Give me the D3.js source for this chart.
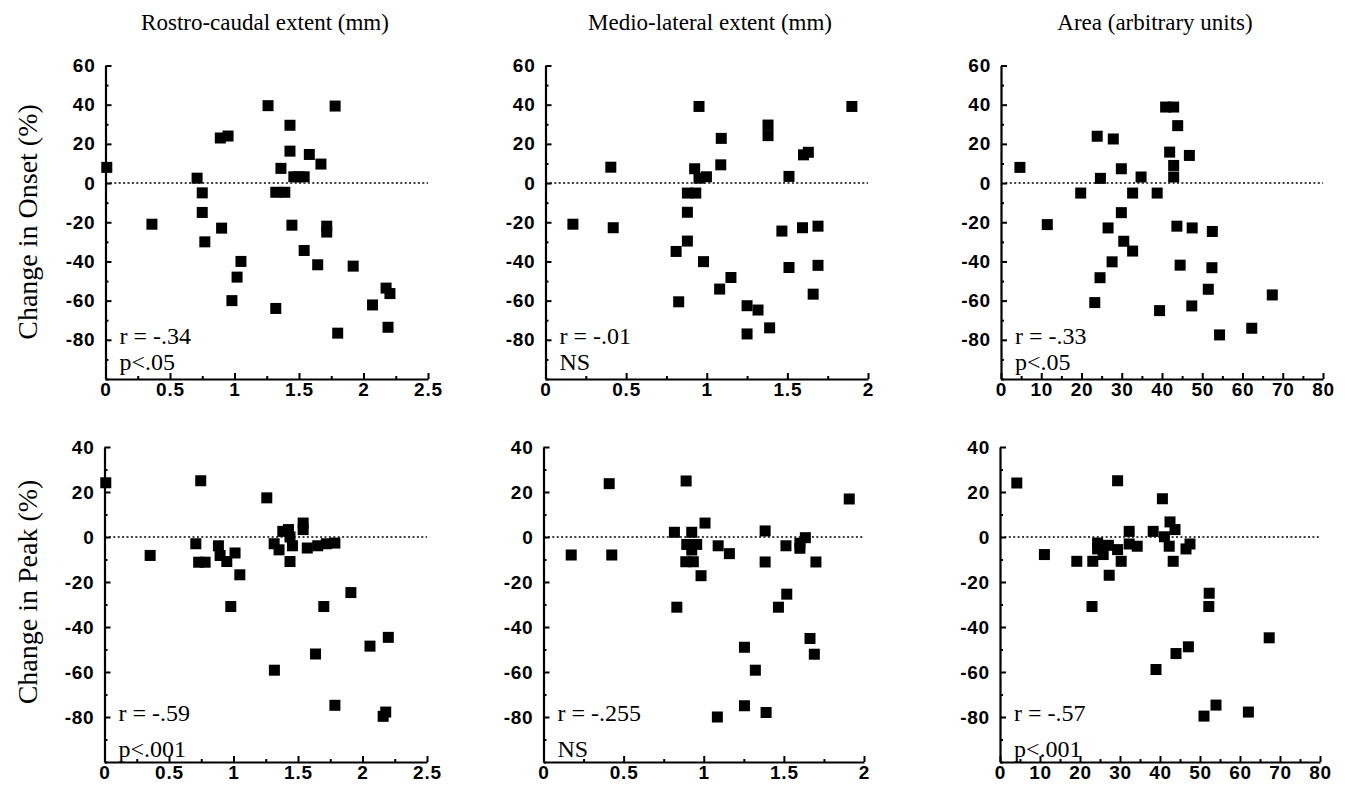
<!DOCTYPE html>
<html><head><meta charset="utf-8">
<script src="https://cdn.jsdelivr.net/npm/d3@7"></script>
<style>
html,body{margin:0;padding:0;background:#fff;}
svg{display:block;}
.tick text{font-family:"Liberation Sans",Arial,sans-serif;font-size:19px;font-weight:bold;letter-spacing:0.8px;fill:#000;}
</style></head>
<body>
<svg id="chart" width="1345" height="791"></svg>
<script>
// ---------- DATA ----------
const columnTitles = ["Rostro-caudal extent (mm)", "Medio-lateral extent (mm)", "Area (arbitrary units)"];
const rowTitles = ["Change in Onset (%)", "Change in Peak (%)"];

const xTicksRC = [0, 0.5, 1, 1.5, 2, 2.5];
const xTicksML = [0, 0.5, 1, 1.5, 2];
const xTicksArea = [0, 10, 20, 30, 40, 50, 60, 70, 80];
const yTicksOnset = [60, 40, 20, 0, -20, -40, -60, -80];
const yTicksPeak = [40, 20, 0, -20, -40, -60, -80];

const statsOnset = [["r = -.34", "p<.05"], ["r = -.01", "NS"], ["r = -.33", "p<.05"]];
const statsPeak = [["r = -.59", "p<.001"], ["r = -.255", "NS"], ["r = -.57", "p<.001"]];

// [x, y] pairs
const onsetRC = [[0.01,8],[0.36,-21],[0.71,2.5],[0.75,-5],[0.75,-15],[0.77,-30],[0.89,23],[0.95,24],
 [0.90,-23],[1.05,-40],[1.02,-48],[0.98,-60],[1.26,39.5],[1.32,-64],[1.32,-4.7],[1.36,7.5],[1.39,-4.7],
 [1.43,29.5],[1.43,16.3],[1.46,3.2],[1.50,3.2],[1.54,3.2],[1.445,-21.5],[1.54,-34.4],[1.58,14.6],
 [1.645,-41.7],[1.67,9.7],[1.715,-22],[1.715,-25],[1.78,39.3],[1.80,-76.6],[1.92,-42.4],[2.07,-62.2],
 [2.175,-53.6],[2.205,-56.4],[2.19,-73.6]];
const onsetML = [[0.17,-21],[0.405,8.1],[0.42,-22.8],[0.81,-34.9],[0.826,-60.6],[0.88,-14.9],[0.88,-29.6],
 [0.88,-5.1],[0.932,-5.1],[0.925,7.3],[0.952,39.1],[0.952,2.5],[0.998,3.2],[0.98,-40.1],[1.09,22.8],
 [1.087,9.3],[1.08,-54.1],[1.15,-48.2],[1.25,-62.6],[1.25,-77],[1.318,-64.8],[1.38,29.6],[1.38,24.2],
 [1.39,-73.9],[1.466,-24.5],[1.51,3.4],[1.51,-43.1],[1.594,-22.8],[1.60,14.4],[1.63,15.7],[1.66,-56.7],
 [1.69,-22],[1.69,-42],[1.90,39.1]];
const onsetArea = [[4.7,8],[11.5,-21.2],[19.8,-5.1],[23.9,23.9],[24.7,2.4],[23.3,-61],[24.6,-48.3],
 [26.6,-22.9],[27.9,22.5],[27.6,-40.2],[29.9,7.3],[29.9,-15.1],[30.5,-29.7],[32.7,-34.7],[32.7,-5.1],
 [34.8,3.1],[38.8,-5.1],[39.4,-65.1],[40.9,38.8],[42.9,38.8],[41.9,15.8],[43.9,29.3],[42.9,9],[42.9,3.1],
 [43.7,-22],[44.5,-41.9],[46.8,14.1],[47.5,-22.9],[47.4,-62.7],[51.5,-54.2],[52.5,-24.7],[52.4,-43.2],
 [54.3,-77.5],[62.3,-74.1],[67.4,-57.1]];
const peakRC = [[0.01,24.1],[0.354,-8.2],[0.708,-3],[0.746,25],[0.73,-11.2],[0.78,-11.2],[0.883,-3.9],
 [0.896,-8.2],[0.948,-10.9],[1.012,-7.1],[0.979,-30.9],[1.049,-16.8],[1.258,17.4],[1.315,-3],[1.317,-59.2],
 [1.353,-5.7],[1.382,2.5],[1.426,3.3],[1.438,0],[1.457,-3.9],[1.438,-10.9],[1.54,6.2],[1.54,3.3],
 [1.572,-4.9],[1.653,-3.9],[1.72,-3],[1.786,-2.7],[1.70,-30.9],[1.636,-52],[1.786,-74.8],[1.91,-24.7],
 [2.058,-48.5],[2.2,-44.6],[2.16,-79.7],[2.18,-77.8]];
const peakML = [[0.173,-8],[0.41,23.7],[0.426,-8],[0.817,2.1],[0.832,-31.2],[0.89,24.9],[0.894,-3.3],
 [0.925,2.1],[0.925,-5.8],[0.956,-3.3],[0.888,-11],[0.935,-11],[1.008,6.2],[0.983,-17.2],[1.09,-3.9],
 [1.085,-80],[1.16,-7.4],[1.254,-49],[1.254,-75],[1.322,-59.2],[1.383,2.7],[1.383,-11.1],[1.389,-78],
 [1.466,-31.2],[1.513,-3.9],[1.518,-25.4],[1.6,-5],[1.6,-2.8],[1.634,-0.3],[1.663,-45.1],[1.69,-52.1],
 [1.70,-11.1],[1.908,16.9]];
const peakArea = [[4.2,24],[11.1,-7.8],[19.2,-10.8],[23.2,-10.8],[23,-30.9],[24.4,-2.7],[24.4,-5.3],
 [25.8,-7.8],[27.1,-3.7],[27.3,-17],[29.4,25],[29.4,-5.6],[30.3,-10.8],[32.3,2.5],[32.3,-3.1],[34.3,-4.1],
 [38.3,2.5],[39,-58.9],[40.6,17],[41.1,0.1],[42.5,6.7],[43.75,3.3],[42.3,-4.1],[43.3,-10.8],[44,-51.8],
 [46.5,-5.3],[47.5,-3.1],[47.1,-48.8],[52.3,-25],[52.2,-30.9],[51,-79.6],[54,-74.7],[62.1,-77.8],[67.3,-44.8]];

// ---------- LAYOUT ----------
const svg = d3.select("#chart");
const rows = [
  {yDomain:[-100,60], yRange:[379,65.5], yTicks:yTicksOnset, stats:statsOnset, data:[onsetRC,onsetML,onsetArea],
   xRanges:[[105.5,428],[545.5,868],[1001,1323]]},
  {yDomain:[-100,40], yRange:[762,447], yTicks:yTicksPeak, stats:statsPeak, data:[peakRC,peakML,peakArea],
   xRanges:[[104.5,427],[543.5,864],[1000,1320]]}
];
const cols = [
  {domain:[0,2.5], ticks:xTicksRC, minorStep:0.25, fmt:d=>String(d)},
  {domain:[0,2], ticks:xTicksML, minorStep:0.25, fmt:d=>String(d)},
  {domain:[0,80], ticks:xTicksArea, minorStep:5, fmt:d=>String(d)}
];

function range(a,b,s){const out=[];for(let v=a;v<=b+1e-9;v+=s)out.push(+v.toFixed(4));return out;}

rows.forEach((row,ri)=>{
  const y = d3.scaleLinear().domain(row.yDomain).range(row.yRange);
  cols.forEach((col,ci)=>{
    const x = d3.scaleLinear().domain(col.domain).range(row.xRanges[ci]);
    const g = svg.append("g");
    const x0 = x.range()[0], y0 = y.range()[0];

    // zero line
    g.append("line").attr("x1",x0).attr("x2",x.range()[1]).attr("y1",y(0)).attr("y2",y(0))
      .attr("stroke","#000").attr("stroke-width",1.5).attr("stroke-dasharray","2,2.4");

    // minor y ticks
    const yMinor = range(row.yDomain[0],row.yDomain[1],10).filter(v=>!row.yTicks.includes(v));
    g.append("g").attr("transform",`translate(${x0},0)`)
      .call(d3.axisLeft(y).tickValues(yMinor).tickSize(-3).tickFormat(""))
      .call(s=>s.select(".domain").remove())
      .selectAll("line").attr("stroke-width",2);
    // major y ticks
    g.append("g").attr("transform",`translate(${x0},0)`)
      .call(d3.axisLeft(y).tickValues(row.yTicks).tickSize(-6).tickSizeOuter(0).tickPadding(10).tickFormat(d=>String(d)))
      .call(s=>s.select(".domain").attr("stroke-width",2.2))
      .selectAll("line").attr("stroke-width",2);

    // minor x ticks
    const xMinor = range(col.domain[0],col.domain[1],col.minorStep).filter(v=>!col.ticks.includes(v));
    g.append("g").attr("transform",`translate(0,${y0})`)
      .call(d3.axisBottom(x).tickValues(xMinor).tickSize(-3).tickFormat(""))
      .call(s=>s.select(".domain").remove())
      .selectAll("line").attr("stroke-width",2);
    // major x ticks
    g.append("g").attr("transform",`translate(0,${y0})`)
      .call(d3.axisBottom(x).tickValues(col.ticks).tickSize(-6).tickSizeOuter(0).tickPadding(3).tickFormat(col.fmt))
      .call(s=>s.select(".domain").attr("stroke-width",2.2))
      .selectAll("line").attr("stroke-width",2);

    // points
    const sz = 11;
    g.append("g").selectAll("rect").data(row.data[ci]).join("rect")
      .attr("x",d=>x(d[0])-sz/2).attr("y",d=>y(d[1])-sz/2)
      .attr("width",sz).attr("height",sz).attr("fill","#000");

    // stats text
    const st = row.stats[ci];
    g.append("text").attr("x",x0+14).attr("y",y(-80)+4)
      .attr("font-family","'Liberation Serif','Times New Roman',serif").attr("font-size",24).text(st[0]);
    g.append("text").attr("x",x0+14).attr("y",ri===0? y0-9 : y0-5)
      .attr("font-family","'Liberation Serif','Times New Roman',serif").attr("font-size",24).text(st[1]);

    // column titles
    if(ri===0){
      svg.append("text").attr("x",[265,710,1155][ci]).attr("y",30).attr("text-anchor","middle")
        .attr("font-family","'Liberation Serif','Times New Roman',serif").attr("font-size",23)
        .text(columnTitles[ci]);
    }
  });
  // row titles
  const cy = ri===0 ? 222 : 592;
  svg.append("text").attr("transform",`translate(37,${cy}) rotate(-90)`).attr("text-anchor","middle")
    .attr("font-family","'Liberation Serif','Times New Roman',serif").attr("font-size",28)
    .text(rowTitles[ri]);
});
</script>
</body></html>
